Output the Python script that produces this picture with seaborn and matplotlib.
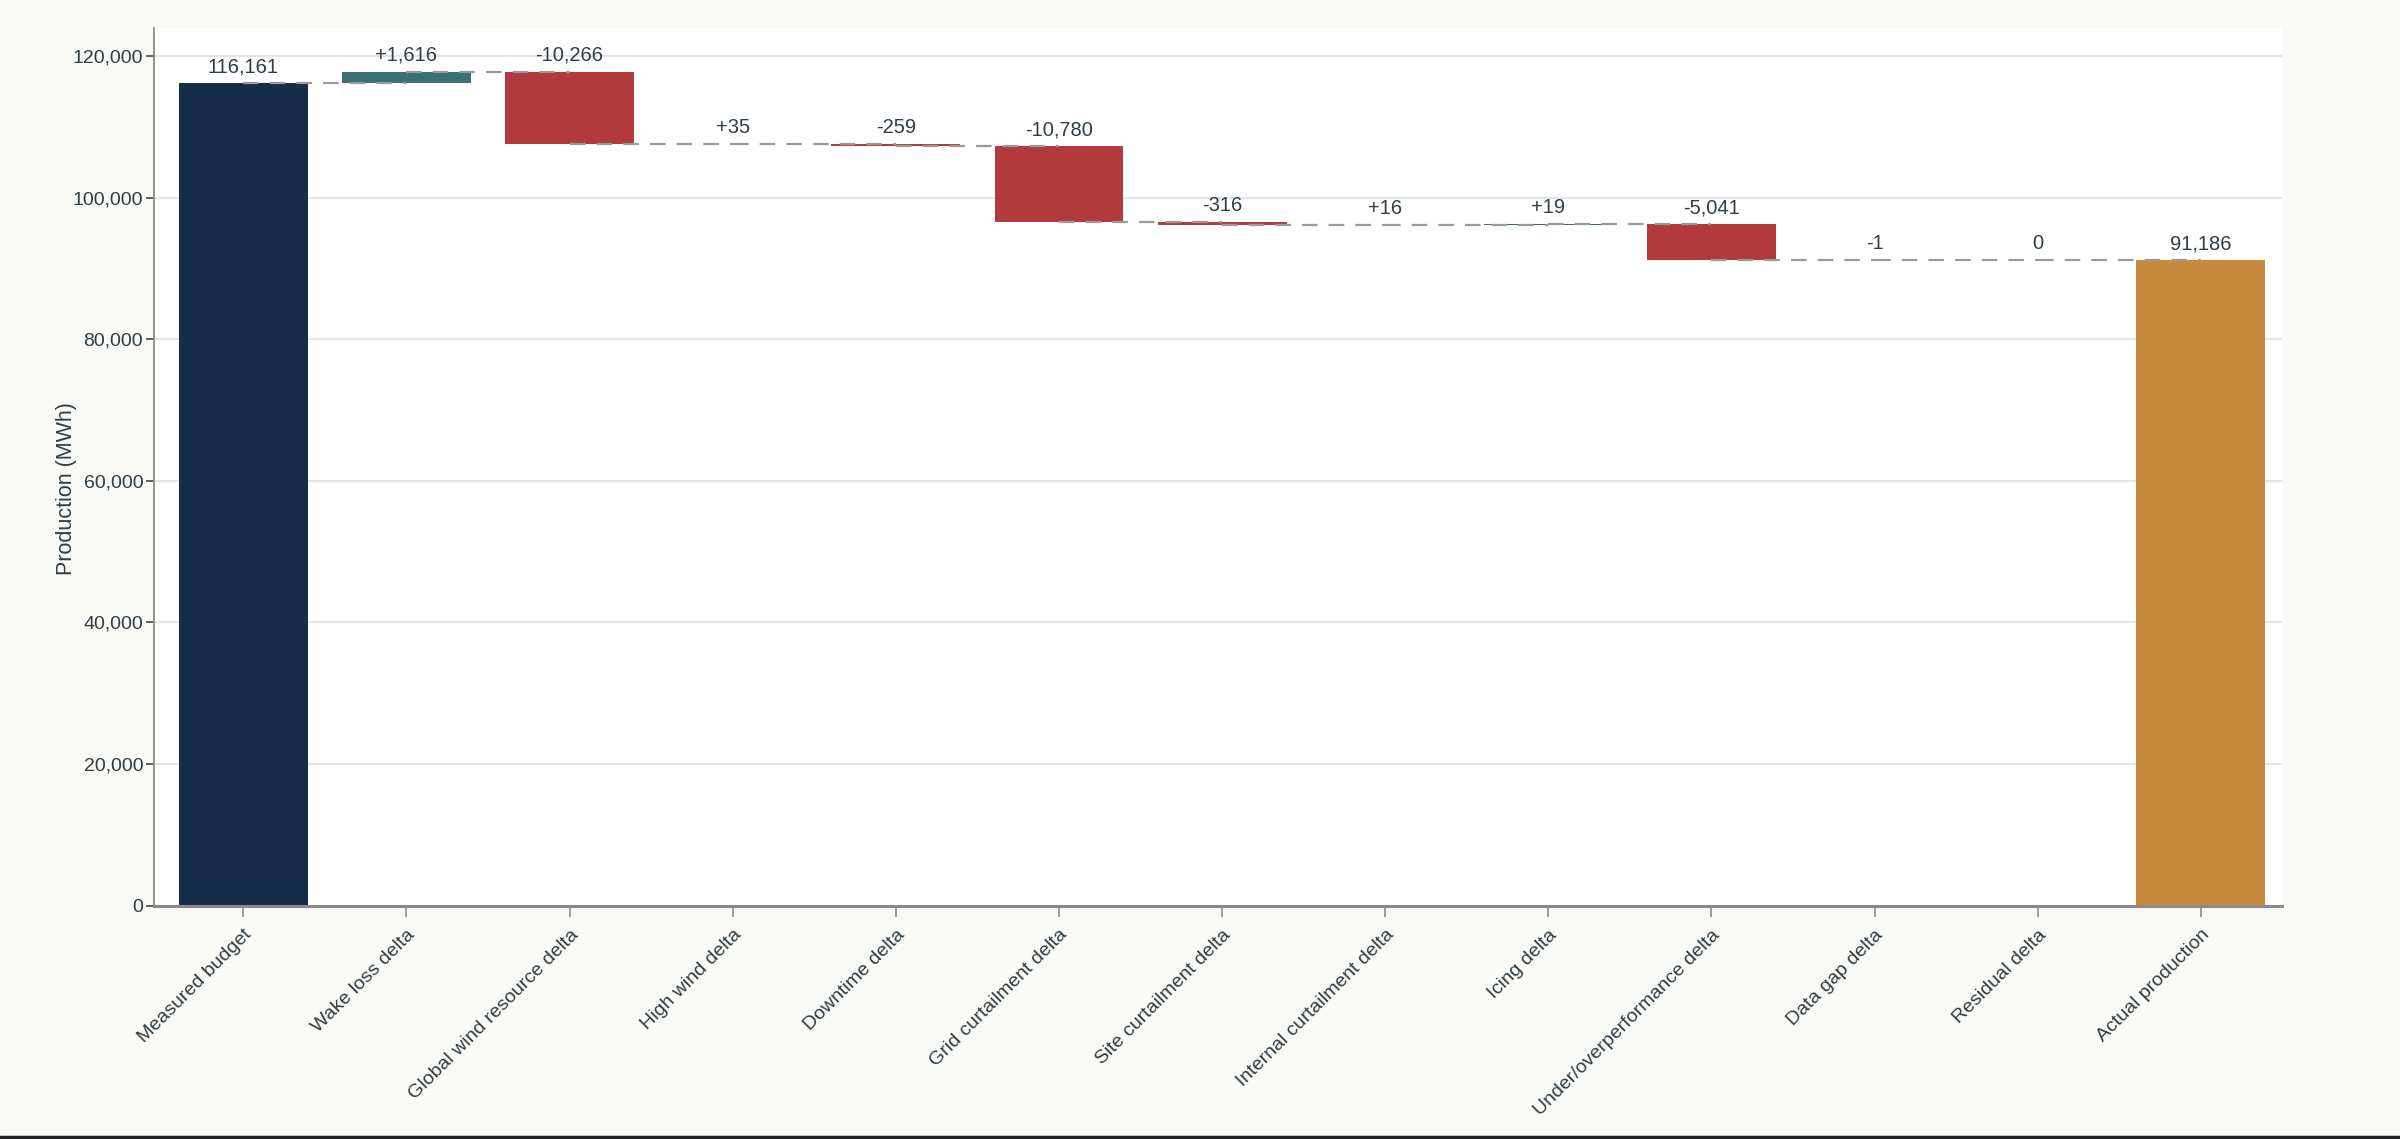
import numpy as np
import pandas as pd
import matplotlib
matplotlib.use("Agg")
import matplotlib.pyplot as plt
from matplotlib.lines import Line2D
from matplotlib.ticker import FuncFormatter, MultipleLocator
import seaborn as sns

# Waterfall data
categories = ['Measured budget', 'Wake loss delta', 'Global wind resource delta',
              'High wind delta', 'Downtime delta', 'Grid curtailment delta',
              'Site curtailment delta', 'Internal curtailment delta', 'Icing delta',
              'Under/overperformance delta', 'Data gap delta', 'Residual delta',
              'Actual production']
budget = 116161
deltas = [1616, -10266, 35, -259, -10780, -316, 16, 19, -5041, -1, 0]
actual = 91186

NAVY = '#172c48'
TEAL = '#3b6f74'
RED = '#b33a3c'
ORANGE = '#c78a3f'
TEXT = '#2f3d45'
BG = '#f9f9f5'


def build_frame():
    """Start/end level of every bar of the waterfall"""
    rows = [dict(cat=categories[0], start=0, end=budget, kind='total')]
    level = budget
    for cat, d in zip(categories[1:-1], deltas):
        rows.append(dict(cat=cat, start=level, end=level + d, kind='delta'))
        level += d
    rows.append(dict(cat=categories[-1], start=0, end=actual, kind='total'))
    df = pd.DataFrame(rows)
    df['bottom'] = df[['start', 'end']].min(axis=1)
    df['height'] = (df['end'] - df['start']).abs()
    df['top'] = df[['start', 'end']].max(axis=1)
    return df


def plot_waterfall(df):
    sns.set_theme(style='white', rc={'axes.facecolor': 'white', 'figure.facecolor': BG})
    plt.rcParams['font.family'] = ['Liberation Sans', 'DejaVu Sans']

    fig, ax = plt.subplots(figsize=(24, 11.39), dpi=100)
    fig.subplots_adjust(left=0.064, right=0.951, top=0.975, bottom=0.205)

    sns.barplot(ax=ax, data=df, x='cat', y='height', bottom=df['bottom'].values,
                order=categories, width=0.79, color=NAVY, saturation=1, zorder=2)

    # Colour each bar by its type / sign
    for patch, (_, row) in zip(ax.patches, df.iterrows()):
        if row['cat'] == categories[0]:
            c = NAVY
        elif row['cat'] == categories[-1]:
            c = ORANGE
        elif row['end'] >= row['start']:
            c = TEAL
        else:
            c = RED
        patch.set_facecolor(c)
        patch.set_edgecolor('none')

    # Dashed connectors between bars
    for i in range(len(df) - 1):
        lvl = df['end'].iloc[i]
        ax.plot([i, i + 1], [lvl, lvl], ls=(0, (7, 5)), color='#9a9a9a', lw=1.6, zorder=3)

    # Value labels
    for i, row in df.iterrows():
        if row['kind'] == 'total':
            txt = f"{row['end']:,.0f}"
        else:
            d = row['end'] - row['start']
            txt = f"{d:+,.0f}" if d != 0 else "0"
        ax.annotate(txt, (i, row['top']), xytext=(0, 5), textcoords='offset points',
                    ha='center', va='bottom', fontsize=14.5, color=TEXT, zorder=4)

    ax.set_ylim(0, 123900)
    ax.set_xlim(-0.55, 12.5)
    ax.yaxis.set_major_locator(MultipleLocator(20000))
    ax.yaxis.set_major_formatter(FuncFormatter(lambda v, p: f"{v:,.0f}"))
    ax.grid(axis='y', color='#e3e3e3', lw=1.3, zorder=0)
    ax.set_axisbelow(True)

    ax.set_xlabel('')
    ax.set_ylabel('Production (MWh)', fontsize=15.5, color=TEXT)
    ax.yaxis.set_label_coords(-0.036, 0.475)
    ax.set_xticks(range(len(categories)))
    ax.set_xticklabels(categories, rotation=45, ha='right', rotation_mode='anchor')
    ax.tick_params(axis='x', labelsize=14, colors='#8a8a8a', labelcolor=TEXT,
                   length=8, width=1.2, direction='out', bottom=True, pad=7)
    ax.tick_params(axis='y', labelsize=14, colors='#444444', labelcolor=TEXT,
                   length=6, width=1.2, direction='out', left=True, pad=1.5)

    sns.despine(ax=ax)
    ax.spines['left'].set_color('#8a8a8a')
    ax.spines['left'].set_linewidth(1.3)
    ax.spines['bottom'].set_color('#8a8a8a')
    ax.spines['bottom'].set_linewidth(2.2)

    # thin dark rule along the figure's bottom edge
    fig.add_artist(Line2D([0, 1], [0.0015, 0.0015], transform=fig.transFigure,
                          color='#222222', lw=2.5))
    return fig


def main():
    df = build_frame()
    fig = plot_waterfall(df)
    fig.savefig('out.png', dpi=100, facecolor=BG)


if __name__ == "__main__":
    main()
